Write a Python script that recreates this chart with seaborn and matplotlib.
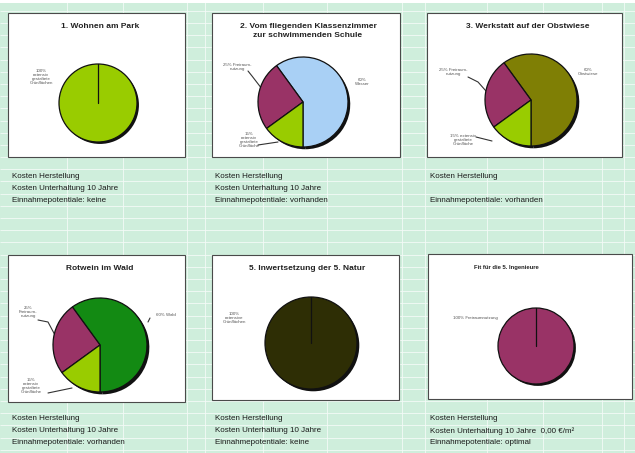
import matplotlib
matplotlib.use("Agg")
import matplotlib.pyplot as plt
from matplotlib.patches import Rectangle
import numpy as np
import seaborn as sns

sns.set_theme(style="white")
plt.rcParams["font.family"] = ["Liberation Sans", "DejaVu Sans"]

W, H = 635, 453

# ---- chart data -------------------------------------------------------
titles = [
    "1. Wohnen am Park",
    "2. Vom fliegenden Klassenzimmer\nzur schwimmenden Schule",
    "3. Werkstatt auf der Obstwiese",
    "Rotwein im Wald",
    "5. Inwertsetzung der 5. Natur",
    "Fit für die 5. Ingenieure",
]
park_shares = [100]
schule_shares = [60, 25, 15]
werkstatt_shares = [60, 25, 15]
wald_shares = [60, 25, 15]
natur_shares = [100]
ingenieur_shares = [100]

park_labels = ["100%\nextensiv\ngestaltete\nGrünflächen"]
schule_labels = ["60%\nWasser", "25% Freiraum-\nnutzung", "15%\nextensiv\ngestaltete\nGrünfläche"]
werkstatt_labels = ["60%\nObstwiese", "25% Freiraum-\nnutzung", "15% extensiv\ngestaltete\nGrünfläche"]
wald_labels = ["60% Wald", "25%\nFreiraum-\nnutzung", "15%\nextensiv\ngestaltete\nGrünfläche"]
natur_labels = ["100%\nextensive\nGrünflächen"]
ingenieur_labels = ["100% Freiraumnutzung"]

park_colors = ["#99cc00"]
schule_colors = ["#a9d0f5", "#993366", "#99cc00"]
werkstatt_colors = ["#7f7f05", "#993366", "#99cc00"]
wald_colors = ["#138a13", "#993366", "#99cc00"]
natur_colors = ["#2e2e05"]
ingenieur_colors = ["#993366"]

notes = [
    ["Kosten Herstellung", "Kosten Unterhaltung 10 Jahre", "Einnahmepotentiale: keine"],
    ["Kosten Herstellung", "Kosten Unterhaltung 10 Jahre", "Einnahmepotentiale: vorhanden"],
    ["Kosten Herstellung", "", "Einnahmepotentiale: vorhanden"],
    ["Kosten Herstellung", "Kosten Unterhaltung 10 Jahre", "Einnahmepotentiale: vorhanden"],
    ["Kosten Herstellung", "Kosten Unterhaltung 10 Jahre", "Einnahmepotentiale: keine"],
    ["Kosten Herstellung", "Kosten Unterhaltung 10 Jahre  0,00 €/m²", "Einnahmepotentiale: optimal"],
]

# ---- layout (pixels) --------------------------------------------------
boxes = [(8, 13, 185, 157), (212, 13, 400, 157), (427, 13, 622, 157),
         (8, 255, 185, 402), (212, 255, 399, 400), (428, 254, 632, 399)]
pies = [(98, 103, 39), (303, 102, 45), (531, 100, 46),
        (100, 345, 47), (311, 343, 46), (536, 346, 38)]
title_pos = [(100, 26), (308, 31), (528, 26), (100, 269), (307, 268), (506, 268)]
title_size = [6, 6, 6, 6, 6, 4.2]
label_pos = [
    [(41, 77)],
    [(362, 82), (237, 67), (249, 140)],
    [(588, 72), (453, 72), (463, 140)],
    [(166, 315), (28, 312), (31, 386)],
    [(234, 318)],
    [(475, 318)],
]
leaders = [
    [],
    [[(248, 71), (252, 76), (262, 89)], [(258, 145), (278, 142)]],
    [[(468, 77), (478, 82), (486, 91)], [(476, 137), (492, 141)]],
    [[(150, 318), (148, 322)], [(38, 320), (48, 322), (56, 337)], [(48, 393), (72, 388)]],
    [],
    [],
]
note_x = [12, 215, 430, 12, 215, 430]
note_y = [[176, 188, 201], [176, 188, 201], [176, 188, 201],
          [419, 431, 443], [419, 431, 443], [419, 431, 443]]

shares = [park_shares, schule_shares, werkstatt_shares, wald_shares, natur_shares, ingenieur_shares]
labels = [park_labels, schule_labels, werkstatt_labels, wald_labels, natur_labels, ingenieur_labels]
colors = [park_colors, schule_colors, werkstatt_colors, wald_colors, natur_colors, ingenieur_colors]

fig = plt.figure(figsize=(W / 100, H / 100), dpi=100)
fig.patch.set_facecolor("#cfeedc")

bg = fig.add_axes([0, 0, 1, 1])
bg.set_xlim(0, W)
bg.set_ylim(H, 0)
bg.axis("off")
bg.set_facecolor("none")

# spreadsheet grid
row_y = [10.7 + 12.2 * k for k in range(37)]
col_x = [67, 123, 187, 205, 263, 327, 402, 425, 487, 543, 602, 624]
bg.hlines(row_y, 0, W, color="#f4fbf7", lw=0.6, zorder=1)
bg.vlines(col_x, 0, H, color="#f4fbf7", lw=0.6, zorder=1)
bg.add_patch(Rectangle((0, 0), W, 3, facecolor="white", edgecolor="none", zorder=1))

# chart frames, titles, labels
for i, (x0, y0, x1, y1) in enumerate(boxes):
    bg.add_patch(Rectangle((x0, y0), x1 - x0, y1 - y0, facecolor="white",
                           edgecolor="#4a4a4a", lw=0.8, zorder=2))
    tx, ty = title_pos[i]
    bg.text(tx, ty, titles[i], ha="center", va="center", fontsize=title_size[i],
            fontweight="bold", color="#222222", linespacing=1.25, zorder=4)
    for (lx, ly), txt in zip(label_pos[i], labels[i]):
        bg.text(lx, ly, txt, ha="center", va="center", fontsize=3.2,
                color="#555555", linespacing=1.1, zorder=4)
    for seg in leaders[i]:
        xs, ys = zip(*seg)
        bg.plot(xs, ys, color="#333333", lw=0.8, zorder=4)
    for txt, ny in zip(notes[i], note_y[i]):
        bg.text(note_x[i], ny, txt, ha="left", va="center", fontsize=5.8,
                color="#1a1a1a", zorder=4)

# pies
for i, (cx, cy, r) in enumerate(pies):
    s = 1.15 * r
    ax = fig.add_axes([(cx - s) / W, (H - cy - s) / H, 2 * s / W, 2 * s / H])
    ax.set_facecolor("none")
    start = 90 if len(shares[i]) == 1 else 270
    ax.pie(shares[i], colors=["#111111"] * len(shares[i]), startangle=start,
           radius=1.0, center=(0.05, -0.05), wedgeprops=dict(linewidth=0))
    wedges, _ = ax.pie(shares[i], colors=colors[i], startangle=start, radius=1.0,
                       wedgeprops=dict(edgecolor="#111111", linewidth=0.9))
    if len(shares[i]) == 1:
        # a full circle still shows its seam, like the spreadsheet renders it
        a = np.deg2rad(wedges[0].theta1)
        ax.plot([0, np.cos(a)], [0, np.sin(a)], color="#111111", lw=0.9)
    ax.set_xlim(-1.15, 1.15)
    ax.set_ylim(-1.15, 1.15)
    ax.set_aspect("equal")
    ax.axis("off")

fig.savefig("out.png", dpi=100)
